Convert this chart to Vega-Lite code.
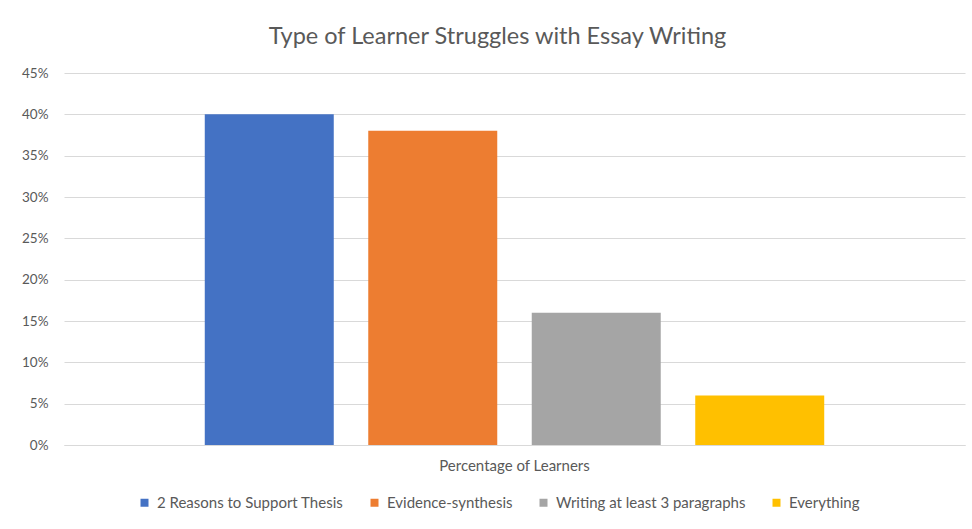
{
  "$schema": "https://vega.github.io/schema/vega-lite/v6.json",
  "width": 901,
  "height": 372,
  "autosize": {"type": "none"},
  "padding": {"left": 64, "top": 73, "right": 7, "bottom": 84},
  "background": "white",
  "title": {
    "text": "Type of Learner Struggles with Essay Writing",
    "anchor": "middle",
    "dx": -17,
    "offset": 18,
    "font": "Lato",
    "fontSize": 23.5,
    "fontWeight": "normal",
    "color": "#595959"
  },
  "data": {
    "values": [
      {"category": "Percentage of Learners", "series": "2 Reasons to Support Thesis", "value": 0.40},
      {"category": "Percentage of Learners", "series": "Evidence-synthesis", "value": 0.38},
      {"category": "Percentage of Learners", "series": "Writing at least 3 paragraphs", "value": 0.16},
      {"category": "Percentage of Learners", "series": "Everything", "value": 0.06}
    ]
  },
  "mark": {"type": "bar"},
  "encoding": {
    "x": {
      "field": "category",
      "type": "nominal",
      "scale": {"paddingInner": 0, "paddingOuter": 0},
      "axis": {
        "title": null,
        "ticks": false,
        "labelAngle": 0,
        "labelPadding": 13,
        "labelFont": "Lato",
        "labelFontSize": 15,
        "labelColor": "#595959",
        "domainColor": "#d9d9d9",
        "domainWidth": 1
      }
    },
    "xOffset": {
      "field": "series",
      "type": "nominal",
      "sort": ["2 Reasons to Support Thesis", "Evidence-synthesis", "Writing at least 3 paragraphs", "Everything"],
      "scale": {"paddingInner": 0.211, "paddingOuter": 0.861}
    },
    "y": {
      "field": "value",
      "type": "quantitative",
      "scale": {"domain": [0, 0.45], "nice": false},
      "axis": {
        "title": null,
        "values": [0, 0.05, 0.1, 0.15, 0.2, 0.25, 0.3, 0.35, 0.4, 0.45],
        "format": ".0%",
        "ticks": false,
        "domain": false,
        "labelPadding": 16,
        "labelFont": "Lato",
        "labelFontSize": 13.5,
        "labelColor": "#595959",
        "gridColor": "#d9d9d9",
        "gridWidth": 1
      }
    },
    "color": {
      "field": "series",
      "type": "nominal",
      "sort": ["2 Reasons to Support Thesis", "Evidence-synthesis", "Writing at least 3 paragraphs", "Everything"],
      "scale": {
        "domain": ["2 Reasons to Support Thesis", "Evidence-synthesis", "Writing at least 3 paragraphs", "Everything"],
        "range": ["#4472C4", "#ED7D31", "#A5A5A5", "#FFC000"]
      },
      "legend": {
        "orient": "none",
        "legendX": 73,
        "legendY": 422,
        "direction": "horizontal",
        "title": null,
        "symbolType": "square",
        "symbolSize": 64,
        "symbolStrokeWidth": 0,
        "labelFont": "Lato",
        "labelFontSize": 15,
        "labelColor": "#595959",
        "labelOffset": 5,
        "columnPadding": 23,
        "labelLimit": 400
      }
    }
  },
  "config": {
    "view": {"stroke": null}
  }
}
